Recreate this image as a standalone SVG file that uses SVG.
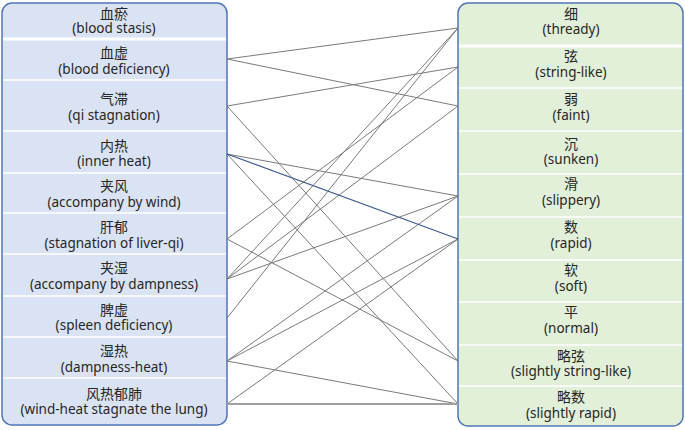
<svg xmlns="http://www.w3.org/2000/svg" width="685" height="430" viewBox="0 0 685 430">
<style>
.t{font-family:"Noto Sans","Noto Sans CJK SC",sans-serif;font-size:13.5px;fill:#262626;text-anchor:middle;dominant-baseline:central}
.cn{font-size:14px}
.sep{stroke:#ffffff;stroke-width:1.5}
.sepb{stroke:#ffffff;stroke-width:3}
.ln{stroke:#7a7a7a;stroke-width:1;fill:none}
.lb{stroke:#3b5a8f;stroke-width:1.2;fill:none}
.lh{stroke:#a0a0a0;stroke-width:1.8;fill:none}
</style>
<rect width="685" height="430" fill="#ffffff"/>
<g id="left-box">
<rect x="2" y="3" width="225" height="422" rx="10" fill="#dae3f3" stroke="#5076b6" stroke-width="1.5"/>
<line class="sepb" x1="3" y1="39" x2="226" y2="39"/>
<line class="sep" x1="3" y1="80" x2="226" y2="80"/>
<line class="sep" x1="3" y1="131" x2="226" y2="131"/>
<line class="sep" x1="3" y1="173" x2="226" y2="173"/>
<line class="sep" x1="3" y1="213" x2="226" y2="213"/>
<line class="sep" x1="3" y1="254" x2="226" y2="254"/>
<line class="sep" x1="3" y1="296" x2="226" y2="296"/>
<line class="sep" x1="3" y1="337" x2="226" y2="337"/>
<line class="sep" x1="3" y1="378" x2="226" y2="378"/>
</g>
<g id="right-box">
<rect x="458" y="3" width="225" height="423" rx="10" fill="#e2efd9" stroke="#5076b6" stroke-width="1.5"/>
<line class="sepb" x1="459" y1="46" x2="682" y2="46"/>
<line class="sep" x1="459" y1="88" x2="682" y2="88"/>
<line class="sep" x1="459" y1="131" x2="682" y2="131"/>
<line class="sep" x1="459" y1="174" x2="682" y2="174"/>
<line class="sep" x1="459" y1="217" x2="682" y2="217"/>
<line class="sep" x1="459" y1="260" x2="682" y2="260"/>
<line class="sep" x1="459" y1="302" x2="682" y2="302"/>
<line class="sep" x1="459" y1="345" x2="682" y2="345"/>
<line class="sep" x1="459" y1="386" x2="682" y2="386"/>
</g>
<g id="l1"><text class="t cn" x="114" y="13">血瘀</text><text class="t" x="114" y="28">(blood stasis)</text></g>
<g id="l2"><text class="t cn" x="114" y="52">血虚</text><text class="t" x="114" y="68.5">(blood deficiency)</text></g>
<g id="l3"><text class="t cn" x="114" y="98">气滞</text><text class="t" x="114" y="114.5">(qi stagnation)</text></g>
<g id="l4"><text class="t cn" x="114" y="145">内热</text><text class="t" x="114" y="161">(inner heat)</text></g>
<g id="l5"><text class="t cn" x="114" y="185">夹风</text><text class="t" x="114" y="201.5">(accompany by wind)</text></g>
<g id="l6"><text class="t cn" x="114" y="226.5">肝郁</text><text class="t" x="114" y="243">(stagnation of liver-qi)</text></g>
<g id="l7"><text class="t cn" x="114" y="267.5">夹湿</text><text class="t" x="114" y="284">(accompany by dampness)</text></g>
<g id="l8"><text class="t cn" x="114" y="309">脾虚</text><text class="t" x="114" y="325">(spleen deficiency)</text></g>
<g id="l9"><text class="t cn" x="114" y="350">湿热</text><text class="t" x="114" y="366.5">(dampness-heat)</text></g>
<g id="l10"><text class="t cn" x="114" y="393">风热郁肺</text><text class="t" x="114" y="409">(wind-heat stagnate the lung)</text></g>
<g id="r1"><text class="t cn" x="571" y="13">细</text><text class="t" x="571" y="29">(thready)</text></g>
<g id="r2"><text class="t cn" x="571" y="55">弦</text><text class="t" x="571" y="71.5">(string-like)</text></g>
<g id="r3"><text class="t cn" x="571" y="98">弱</text><text class="t" x="571" y="114.5">(faint)</text></g>
<g id="r4"><text class="t cn" x="571" y="143">沉</text><text class="t" x="571" y="158.5">(sunken)</text></g>
<g id="r5"><text class="t cn" x="571" y="183.5">滑</text><text class="t" x="571" y="200">(slippery)</text></g>
<g id="r6"><text class="t cn" x="571" y="226.5">数</text><text class="t" x="571" y="243">(rapid)</text></g>
<g id="r7"><text class="t cn" x="571" y="269">软</text><text class="t" x="571" y="285.5">(soft)</text></g>
<g id="r8"><text class="t cn" x="571" y="311">平</text><text class="t" x="571" y="328">(normal)</text></g>
<g id="r9"><text class="t cn" x="571" y="355">略弦</text><text class="t" x="571" y="371">(slightly string-like)</text></g>
<g id="r10"><text class="t cn" x="571" y="396">略数</text><text class="t" x="571" y="412.5">(slightly rapid)</text></g>
<g id="connectors">
<line class="ln" x1="227" y1="59" x2="458" y2="28"/>
<line class="ln" x1="227" y1="59" x2="458" y2="106"/>
<line class="ln" x1="227" y1="106" x2="458" y2="67"/>
<line class="ln" x1="227" y1="106" x2="458" y2="361"/>
<line class="ln" x1="227" y1="154" x2="458" y2="196"/>
<line class="ln" x1="227" y1="154" x2="458" y2="404"/>
<line class="ln" x1="227" y1="239" x2="458" y2="67"/>
<line class="ln" x1="227" y1="239" x2="458" y2="361"/>
<line class="ln" x1="227" y1="279" x2="458" y2="28"/>
<line class="ln" x1="227" y1="279" x2="458" y2="106"/>
<line class="ln" x1="227" y1="279" x2="458" y2="196"/>
<line class="ln" x1="227" y1="318" x2="458" y2="28"/>
<line class="ln" x1="227" y1="361" x2="458" y2="196"/>
<line class="ln" x1="227" y1="361" x2="458" y2="239"/>
<line class="ln" x1="227" y1="361" x2="458" y2="404"/>
<line class="ln" x1="227" y1="404" x2="458" y2="239"/>
<line class="lh" x1="227" y1="404" x2="458" y2="404"/>
<line class="lb" x1="227" y1="154" x2="458" y2="239"/>
</g>
</svg>
